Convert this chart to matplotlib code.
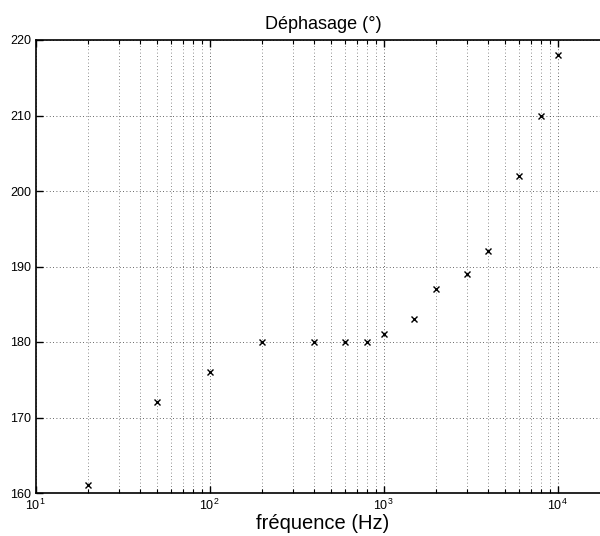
import matplotlib
matplotlib.use("Agg")
import matplotlib.pyplot as plt
from matplotlib.ticker import LogLocator, NullFormatter, MultipleLocator

freq = [20, 50, 100, 200, 400, 600, 800, 1000, 1500, 2000, 3000, 4000, 6000, 8000, 10000]
phase = [161, 172, 176, 180, 180, 180, 180, 181, 183, 187, 189, 192, 202, 210, 218]

plt.rcParams['font.family'] = ['Liberation Sans', 'DejaVu Sans']
fig = plt.figure(figsize=(6.0, 5.36), dpi=100)
left_px, right_px, top_px, bot_px = 35.7, 610.0, 40.0, 493.0
ax = fig.add_axes([left_px/600, 1 - bot_px/536, (right_px-left_px)/600, (bot_px-top_px)/536])
ax.semilogx(freq, phase, linestyle='none', marker='x', color='black', markersize=4.5, markeredgewidth=1.0)
ax.set_xlim(10, 10**(4 + (right_px - 557.7)/174.0))
ax.set_ylim(160, 220)
ax.yaxis.set_major_locator(MultipleLocator(10))
ax.xaxis.set_major_locator(LogLocator(base=10, numticks=10))
ax.xaxis.set_minor_locator(LogLocator(base=10, subs=range(2, 10), numticks=20))
ax.xaxis.set_minor_formatter(NullFormatter())
ax.grid(True, which='major', linestyle=(0, (1, 3)), color='black', linewidth=0.6, alpha=0.8)
ax.grid(True, which='minor', axis='x', linestyle=(0, (1, 3)), color='black', linewidth=0.6, alpha=0.6)
ax.tick_params(which='both', direction='in', top=True, right=False, labelsize=9)
ax.tick_params(which='major', length=5, width=1.0)
ax.tick_params(which='minor', length=3, width=0.8)
for s in ax.spines.values():
    s.set_linewidth(1.2)
ax.set_title('Déphasage (°)', fontsize=13, pad=8)
ax.set_xlabel('fréquence (Hz)', fontsize=14.5, labelpad=1)
fig.savefig('out.png', dpi=100)
